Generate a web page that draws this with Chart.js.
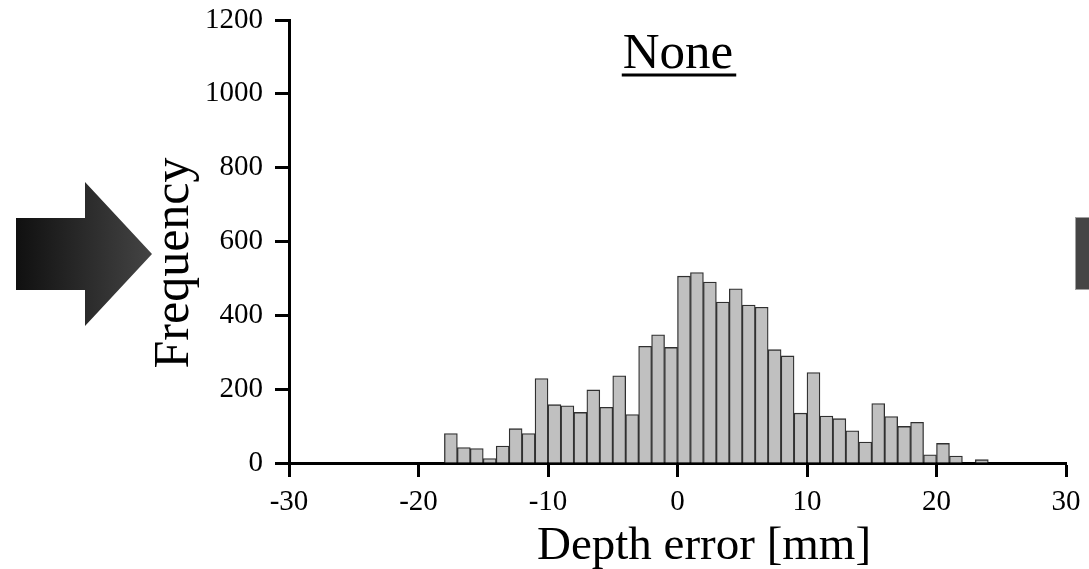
<!DOCTYPE html>
<html>
<head>
<meta charset="utf-8">
<script src="https://cdn.jsdelivr.net/npm/chart.js@4/dist/chart.umd.min.js"></script>
<style>
  html, body { margin: 0; padding: 0; background: #fff; }
  #wrap { width: 1089px; height: 569px; position: relative; }
</style>
</head>
<body>
<div id="wrap"><canvas id="c" width="1089" height="569"></canvas></div>
<script>
// ---- data ----
const binLefts = [-18, -17, -16, -15, -14, -13, -12, -11, -10, -9, -8, -7, -6, -5, -4, -3, -2, -1,
                  0, 1, 2, 3, 4, 5, 6, 7, 8, 9, 10, 11, 12, 13, 14, 15, 16, 17, 18, 19, 20, 21, 22, 23];
const counts = [80, 42, 39, 12, 46, 93, 80, 229, 158, 155, 137, 198, 151, 236, 131, 316, 347, 313,
                506, 516, 490, 436, 472, 428, 422, 307, 290, 135, 245, 127, 120, 87, 57, 161, 126, 99, 110, 22, 53, 19, 0, 9];
const binWidth = 1;
const xTicks = [-30, -20, -10, 0, 10, 20, 30];
const yTicks = [0, 200, 400, 600, 800, 1000, 1200];
const titleText = "None";
const xTitle = "Depth error [mm]";
const yTitle = "Frequency";

const SERIF = "'Liberation Serif', 'Times New Roman', serif";

const points = binLefts.map((b, i) => ({ x: b + binWidth / 2, y: counts[i] }));

const decor = {
  id: 'decor',
  beforeDraw(chart) {
    const ctx = chart.ctx;
    ctx.save();
    // left arrow
    const g = ctx.createLinearGradient(16, 0, 152, 0);
    g.addColorStop(0, '#101010');
    g.addColorStop(1, '#444444');
    ctx.fillStyle = g;
    ctx.beginPath();
    ctx.moveTo(16, 218);
    ctx.lineTo(85, 218);
    ctx.lineTo(85, 182);
    ctx.lineTo(152, 254);
    ctx.lineTo(85, 326);
    ctx.lineTo(85, 290);
    ctx.lineTo(16, 290);
    ctx.closePath();
    ctx.fill();
    // right partial block
    ctx.fillStyle = '#454545';
    ctx.fillRect(1075.5, 217.5, 20, 72);
    ctx.strokeStyle = '#a0a0a0';
    ctx.lineWidth = 1;
    ctx.strokeRect(1075.5, 217.5, 20, 72);
    ctx.restore();
  },
  afterDraw(chart) {
    const ctx = chart.ctx;
    ctx.save();
    ctx.fillStyle = '#000';
    ctx.textBaseline = 'alphabetic';
    // title with underline
    ctx.font = '51px ' + SERIF;
    ctx.textAlign = 'center';
    const tw = ctx.measureText(titleText).width;
    ctx.fillText(titleText, 678, 68);
    ctx.fillRect(678 - tw / 2 - 1, 73.5, tw + 4, 3);
    // x title
    ctx.font = '47px ' + SERIF;
    ctx.fillText(xTitle, 704, 559);
    // y title
    ctx.translate(188, 263);
    ctx.rotate(-Math.PI / 2);
    ctx.font = '50px ' + SERIF;
    ctx.fillText(yTitle, 0, 0);
    ctx.restore();
  }
};

new Chart(document.getElementById('c'), {
  type: 'bar',
  data: {
    datasets: [{
      data: points,
      backgroundColor: '#c0c0c0',
      borderColor: '#303030',
      borderWidth: 1.3,
      borderSkipped: 'start',
      barPercentage: 1.0,
      categoryPercentage: 1.0
    }]
  },
  options: {
    responsive: false,
    animation: false,
    devicePixelRatio: 1,
    layout: { padding: { top: 20, right: 23, left: 0, bottom: 0 } },
    plugins: { legend: { display: false }, tooltip: { enabled: false }, title: { display: false } },
    scales: {
      x: {
        type: 'linear',
        min: -30, max: 30,
        offset: false,
        afterFit(scale) { scale.height = 106; scale.paddingLeft = 0; scale.paddingRight = 0; },
        afterBuildTicks(scale) { scale.ticks = xTicks.map(v => ({ value: v })); },
        grid: { display: true, drawOnChartArea: false, drawTicks: true, tickLength: 14, tickWidth: 3, tickColor: '#000', offset: false },
        border: { display: true, width: 3, color: '#000' },
        ticks: { color: '#000', font: { family: SERIF, size: 29 }, padding: 8, maxRotation: 0, autoSkip: false,
                 callback: (v) => String(v) }
      },
      y: {
        min: 0, max: 1200,
        afterFit(scale) { scale.width = 289; scale.paddingTop = 0; scale.paddingBottom = 0; },
        afterBuildTicks(scale) { scale.ticks = yTicks.map(v => ({ value: v })); },
        grid: { display: true, drawOnChartArea: false, drawTicks: true, tickLength: 14, tickWidth: 3, tickColor: '#000' },
        border: { display: true, width: 3, color: '#000' },
        ticks: { color: '#000', font: { family: SERIF, size: 29 }, padding: 12, callback: (v) => String(v) }
      }
    }
  },
  plugins: [decor]
});
</script>
</body>
</html>
